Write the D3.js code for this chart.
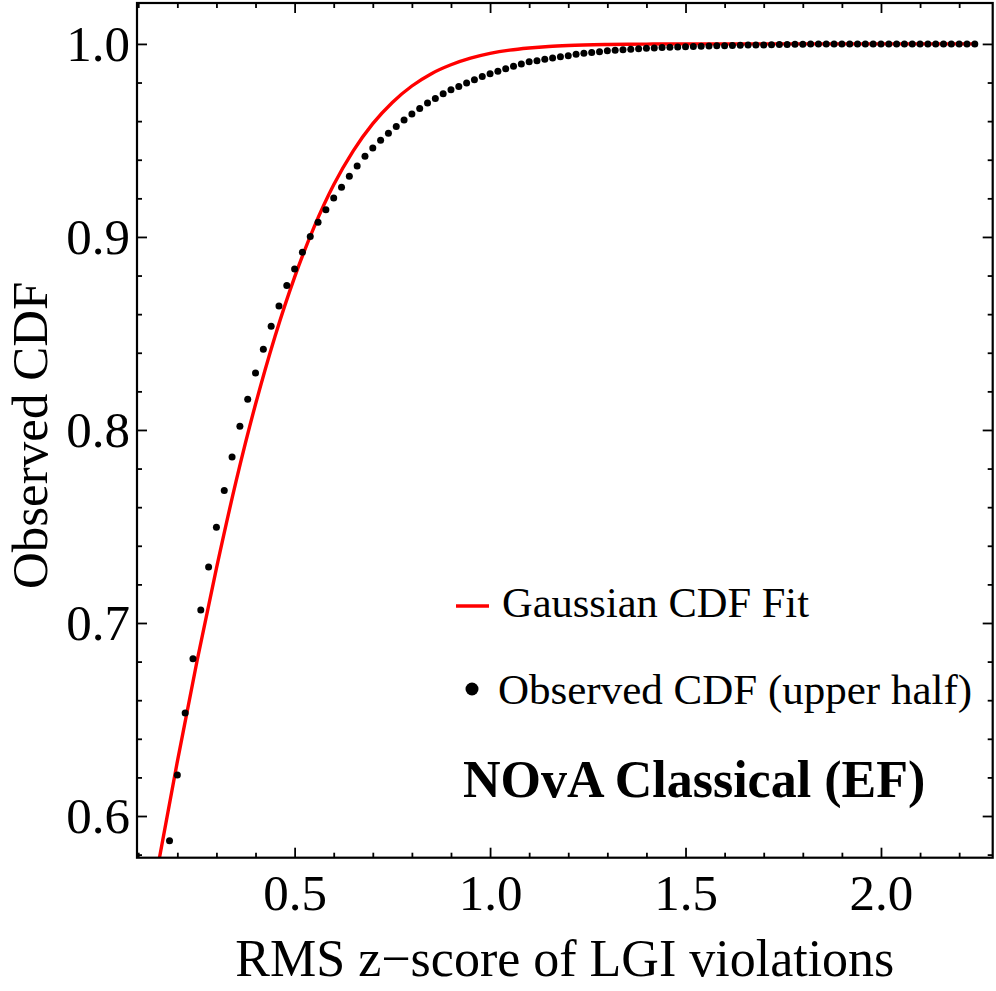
<!DOCTYPE html>
<html>
<head>
<meta charset="utf-8">
<script src="https://cdn.jsdelivr.net/npm/d3@7"></script>
<style>
  body { margin: 0; background: #fff; }
  text { font-family: "Liberation Serif", "Times New Roman", serif; fill: #000; }
</style>
</head>
<body>
<div id="chart"></div>
<script>
// observed CDF points (upper half)
var obsX = [0.18,0.20,0.22,0.24,0.26,0.28,0.30,0.32,0.34,0.36,0.38,0.40,0.42,0.44,0.46,0.48,0.50,0.52,0.54,0.56,
            0.58,0.60,0.62,0.64,0.66,0.68,0.70,0.72,0.74,0.76,0.78,0.80,0.82,0.84,0.86,0.88,0.90,0.92,0.94,0.96,
            0.98,1.00,1.02,1.04,1.06,1.08,1.10,1.12,1.14,1.16,1.18,1.20,1.22,1.24,1.26,1.28,1.30,1.32,1.34,1.36,
            1.38,1.40,1.42,1.44,1.46,1.48,1.50,1.52,1.54,1.56,1.58,1.60,1.62,1.64,1.66,1.68,1.70,1.72,1.74,1.76,
            1.78,1.80,1.82,1.84,1.86,1.88,1.90,1.92,1.94,1.96,1.98,2.00,2.02,2.04,2.06,2.08,2.10,2.12,2.14,2.16,
            2.18,2.20,2.22,2.24];
var obsY = [0.5872,0.6212,0.6534,0.6815,0.7067,0.7290,0.7496,0.7686,0.7860,0.8019,0.8159,0.8295,0.8418,0.8537,0.8642,0.8748,0.8834,0.8921,0.9002,0.9076,
            0.9141,0.9202,0.9258,0.9315,0.9368,0.9418,0.9461,0.9501,0.9537,0.9572,0.9606,0.9637,0.9665,0.9694,0.9717,0.9742,0.9762,0.9779,0.9798,0.9815,
            0.9831,0.9846,0.9859,0.9872,0.9884,0.9896,0.9907,0.9913,0.9921,0.9927,0.9934,0.9939,0.9947,0.9952,0.9955,0.9960,0.9964,0.9967,0.9970,0.9973,
            0.9975,0.9977,0.9979,0.9981,0.9983,0.9984,0.9985,0.9987,0.9988,0.9989,0.9990,0.9991,0.9992,0.9993,0.9994,0.9995,0.9995,0.9996,0.9997,0.9997,
            0.9998,0.9998,0.9999,0.9999,1.0,1.0,1.0,1.0,1.0,1.0,1.0,1.0,1.0,1.0,1.0,1.0,1.0,1.0,1.0,1.0,
            1.0,1.0,1.0,1.0];

// gaussian CDF fit
var fitX = [0.15,0.20,0.25,0.30,0.35,0.40,0.45,0.50,0.55,0.60,0.65,0.70,0.75,0.80,0.85,0.90,0.95,1.00,1.05,1.10,1.15,1.20,1.30,1.40,1.50,1.75,2.00,2.24];
var fitY = [0.5737,0.6282,0.6799,0.7283,0.7732,0.8133,0.8486,0.8792,0.9052,0.9270,0.9446,0.9587,0.9697,0.9782,0.9846,0.9892,0.9926,0.9951,0.9968,0.9979,0.9987,0.9992,0.9997,0.9999,1.0,1.0,1.0,1.0];

var xMajor = [0.5,1.0,1.5,2.0];
var xMinor = [0.1,0.2,0.3,0.4,0.6,0.7,0.8,0.9,1.1,1.2,1.3,1.4,1.6,1.7,1.8,1.9,2.1,2.2];
var yMajor = [0.6,0.7,0.8,0.9,1.0];
var yMinor = [0.58,0.62,0.64,0.66,0.68,0.72,0.74,0.76,0.78,0.82,0.84,0.86,0.88,0.92,0.94,0.96,0.98];

var legendLabels = ["Gaussian CDF Fit", "Observed CDF (upper half)"];
var panelTitle = "NOvA Classical (EF)";

var w = 996, h = 991,
    pL = 137, pR = 992.7, pT = 3, pB = 857.7;

var svg = d3.select("#chart")
    .append("svg")
    .attr("width", w)
    .attr("height", h);

var x = d3.scaleLinear().domain([0.0968, 2.2858]).range([pL, pR]);
var y = d3.scaleLinear().domain([0.5784, 1.0212]).range([pB, pT]);

// clip the fit curve to the frame
svg.append("defs").append("clipPath")
    .attr("id", "plot-clip")
  .append("rect")
    .attr("x", pL).attr("y", pT)
    .attr("width", pR - pL).attr("height", pB - pT);

var fit = fitX.map(function(d, i) { return [d, fitY[i]]; });
var obs = obsX.map(function(d, i) { return [d, obsY[i]]; });

var line = d3.line()
    .x(function(d) { return x(d[0]); })
    .y(function(d) { return y(d[1]); })
    .curve(d3.curveMonotoneX);

svg.append("path")
    .datum(fit)
    .attr("clip-path", "url(#plot-clip)")
    .attr("fill", "none")
    .attr("stroke", "#ff0000")
    .attr("stroke-width", 3.4)
    .attr("d", line);

svg.append("g").selectAll("circle")
    .data(obs)
  .enter().append("circle")
    .attr("cx", function(d) { return x(d[0]); })
    .attr("cy", function(d) { return y(d[1]); })
    .attr("r", 3.5)
    .attr("fill", "#000");

// axes: ticks point inward, labels only on bottom/left
function styleAxis(g) {
  g.select(".domain").remove();
  g.selectAll(".tick line").attr("stroke", "#000").attr("stroke-width", 1.8);
  g.selectAll(".tick text")
    .style("font-family", "'Liberation Serif', 'Times New Roman', serif")
    .style("font-size", "51px")
    .attr("fill", "#000");
}

svg.append("g")
    .attr("transform", "translate(0," + pB + ")")
    .call(d3.axisBottom(x).tickValues(xMajor).tickSize(-10).tickPadding(16).tickFormat(d3.format(".1f")))
    .call(styleAxis);
svg.append("g")
    .attr("transform", "translate(0," + pB + ")")
    .call(d3.axisBottom(x).tickValues(xMinor).tickSize(-5).tickFormat(""))
    .call(styleAxis);
svg.append("g")
    .attr("transform", "translate(0," + pT + ")")
    .call(d3.axisTop(x).tickValues(xMajor).tickSize(-10).tickFormat(""))
    .call(styleAxis);
svg.append("g")
    .attr("transform", "translate(0," + pT + ")")
    .call(d3.axisTop(x).tickValues(xMinor).tickSize(-5).tickFormat(""))
    .call(styleAxis);

svg.append("g")
    .attr("transform", "translate(" + pL + ",0)")
    .call(d3.axisLeft(y).tickValues(yMajor).tickSize(-10).tickPadding(7).tickFormat(d3.format(".1f")))
    .call(styleAxis);
svg.append("g")
    .attr("transform", "translate(" + pL + ",0)")
    .call(d3.axisLeft(y).tickValues(yMinor).tickSize(-5).tickFormat(""))
    .call(styleAxis);
svg.append("g")
    .attr("transform", "translate(" + pR + ",0)")
    .call(d3.axisRight(y).tickValues(yMajor).tickSize(-10).tickFormat(""))
    .call(styleAxis);
svg.append("g")
    .attr("transform", "translate(" + pR + ",0)")
    .call(d3.axisRight(y).tickValues(yMinor).tickSize(-5).tickFormat(""))
    .call(styleAxis);

// frame
svg.append("rect")
    .attr("x", pL).attr("y", pT)
    .attr("width", pR - pL).attr("height", pB - pT)
    .attr("fill", "none")
    .attr("stroke", "#000")
    .attr("stroke-width", 2.2);

// axis titles
svg.append("text")
    .attr("x", (pL + pR) / 2)
    .attr("y", 976)
    .attr("text-anchor", "middle")
    .style("font-size", "52px")
    .text("RMS z\u2212score of LGI violations");

svg.append("text")
    .attr("transform", "translate(47," + ((pT + pB) / 2 + 5) + ") rotate(-90)")
    .attr("text-anchor", "middle")
    .style("font-size", "51px")
    .text("Observed CDF");

// legend
svg.append("line")
    .attr("x1", 456).attr("x2", 489)
    .attr("y1", 606).attr("y2", 606)
    .attr("stroke", "#ff0000")
    .attr("stroke-width", 3.4);
svg.append("text")
    .attr("x", 502).attr("y", 617)
    .style("font-size", "42.5px")
    .text(legendLabels[0]);

svg.append("circle")
    .attr("cx", 472).attr("cy", 689)
    .attr("r", 6.5)
    .attr("fill", "#000");
svg.append("text")
    .attr("x", 498).attr("y", 704)
    .style("font-size", "43px")
    .text(legendLabels[1]);

svg.append("text")
    .attr("x", 463).attr("y", 797)
    .style("font-size", "52px")
    .style("font-weight", "bold")
    .text(panelTitle);
</script>
</body>
</html>
